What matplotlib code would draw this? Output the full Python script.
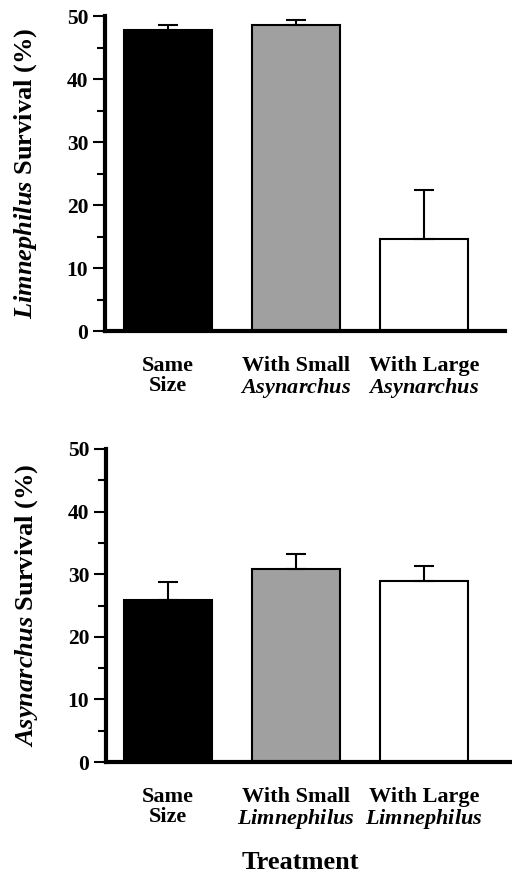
import matplotlib
matplotlib.use("Agg")
import matplotlib.pyplot as plt
import numpy as np

plt.rcParams['font.family'] = ['Liberation Serif', 'DejaVu Serif']
plt.rcParams['font.weight'] = 'bold'
plt.rcParams['mathtext.fontset'] = 'custom'
plt.rcParams['mathtext.it'] = 'Liberation Serif:italic:bold'
plt.rcParams['mathtext.rm'] = 'Liberation Serif:bold'

top_labels = ["Same\nSize", "With Small\n$\\mathit{Asynarchus}$", "With Large\n$\\mathit{Asynarchus}$"]
top_values = [47.8, 48.6, 14.6]
top_errors = [0.8, 0.7, 7.8]

bot_labels = ["Same\nSize", "With Small\n$\\mathit{Limnephilus}$", "With Large\n$\\mathit{Limnephilus}$"]
bot_values = [25.9, 30.9, 28.9]
bot_errors = [2.9, 2.3, 2.4]

colors = ['black', '#a0a0a0', 'white']

fig = plt.figure(figsize=(5.12, 8.75), dpi=100)
ax1 = fig.add_axes([0.205, 0.6217, 0.781, 0.36])
ax2 = fig.add_axes([0.207, 0.1291, 0.793, 0.3578])

def draw(ax, labels, values, errors, ylabel, xlim):
    x = np.arange(len(values))
    ax.bar(x, values, width=0.69, color=colors, edgecolor='black', linewidth=1.5,
           yerr=[np.zeros(len(errors)), errors],
           error_kw=dict(ecolor='black', elinewidth=1.5, capsize=7, capthick=1.5),
           zorder=2)
    ax.set_ylim(0, 50)
    ax.set_xlim(*xlim)
    ax.set_yticks([0, 10, 20, 30, 40, 50])
    ax.set_yticks([5, 15, 25, 35, 45], minor=True)
    ax.set_xticks(x)
    ax.set_xticklabels(labels, fontsize=16, fontweight='bold', linespacing=1.0)
    ax.tick_params(axis='x', length=0, pad=18)
    ax.tick_params(axis='y', which='major', length=9, width=1.5, pad=3, labelsize=15.5)
    ax.tick_params(axis='y', which='minor', length=6, width=1.5)
    for t in ax.get_yticklabels():
        t.set_fontweight('bold')
    for s in ['top', 'right']:
        ax.spines[s].set_visible(False)
    ax.spines['left'].set_linewidth(3)
    ax.spines['bottom'].set_linewidth(3)
    ax.set_ylabel(ylabel, fontsize=19, fontweight='bold', labelpad=20)

draw(ax1, top_labels, top_values, top_errors,
     "$\\mathit{Limnephilus}$ Survival (%)", (-0.492, 2.633))
draw(ax2, bot_labels, bot_values, bot_errors,
     "$\\mathit{Asynarchus}$ Survival (%)", (-0.484, 2.687))

fig.text(0.586, 6 / 875, "Treatment", fontsize=19, fontweight='bold', ha='center', va='baseline')

fig.savefig("out.png", dpi=100)
